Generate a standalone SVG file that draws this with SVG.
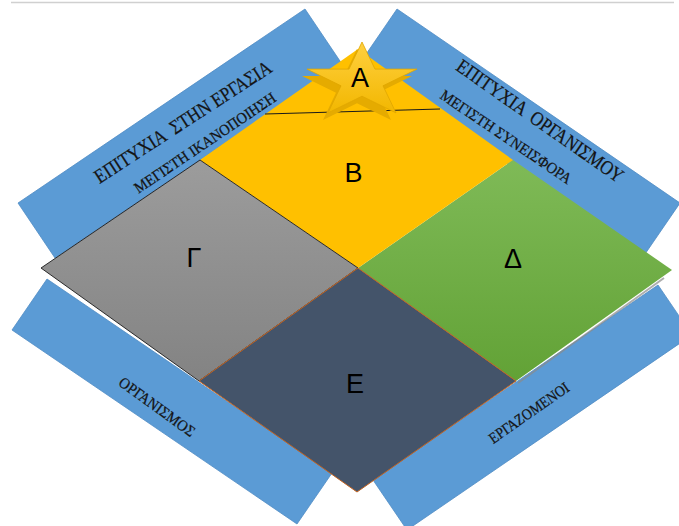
<svg xmlns="http://www.w3.org/2000/svg" width="679" height="526" viewBox="0 0 679 526">
<defs>
<linearGradient id="gGray" x1="0" y1="0" x2="0" y2="1"><stop offset="0" stop-color="#9c9c9c"/><stop offset="1" stop-color="#838383"/></linearGradient>
<linearGradient id="gGreen" x1="0" y1="0" x2="0" y2="1"><stop offset="0" stop-color="#7fba57"/><stop offset="1" stop-color="#62a236"/></linearGradient>
<linearGradient id="gStar" x1="0" y1="0" x2="0" y2="1"><stop offset="0" stop-color="#ffd040"/><stop offset="1" stop-color="#f2b700"/></linearGradient>
</defs>
<style>
.band{fill:#5b9bd5;stroke:#4f8cc4;stroke-width:0.8}
.bt{font-family:"Liberation Serif","Times New Roman",serif;fill:#141414;stroke:#141414;stroke-width:0.25;text-anchor:middle}
.big{font-size:20px}
.small{font-size:15.5px}
.lbl{font-family:"Liberation Sans",Arial,sans-serif;font-size:27px;fill:#000;text-anchor:middle}
</style>
<line x1="11" y1="2.5" x2="674" y2="2.5" stroke="#d0d0d0" stroke-width="1.5"/>
<g id="band-top-left">
<polygon class="band" points="18,203 305,9 342,64 55,258"/>
</g>
<g id="band-top-right">
<polygon class="band" points="397,9 680,203 643,257 360,63"/>
</g>
<g id="band-bottom-left">
<polygon class="band" points="47,279 332,473 297,524 12,330"/>
</g>
<g id="band-bottom-right">
<polygon class="band" points="373,480 658,285 692,335 407,530"/>
</g>
<g id="piece-green">
<polyline points="664,278 518,383" fill="none" stroke="#8a8a8a" stroke-width="2" opacity="0.7"/>
<polygon points="513,160 672,270 516,381 358,268" fill="url(#gGreen)"/>
<text class="lbl" x="513" y="268">Δ</text>
</g>
<g id="piece-yellow">
<polygon points="200,160 358,49 513,160 358,268" fill="#ffc000"/>
<text class="lbl" x="353.5" y="182">B</text>
</g>
<g id="piece-gray">
<polygon points="200,160 358,268 199,381 41,268" fill="url(#gGray)" stroke="#1a1a1a" stroke-width="0.9"/>
<text class="lbl" x="194" y="267">Γ</text>
</g>
<g id="piece-navy">
<polygon points="358,268 516,381 357,492 199,381" fill="#44546a" stroke="#c5631f" stroke-width="1"/>
<text class="lbl" x="355" y="393">E</text>
</g>
<g id="connectors">
<line x1="265" y1="114" x2="440" y2="109" stroke="#1a1a1a" stroke-width="1.2"/>
</g>
<g id="star-A">
<polygon transform="translate(-5,7)" points="362,42 375,69.1 417,69.1 383,85.8 396,112.9 362,96.2 328,112.9 341,85.8 307,69.1 349,69.1" fill="#e5ab00"/>
<polygon points="362,42 375,69.1 417,69.1 383,85.8 396,112.9 362,96.2 328,112.9 341,85.8 307,69.1 349,69.1" fill="url(#gStar)" stroke="#e0a600" stroke-width="0.8"/>
<text class="lbl" x="360" y="87">A</text>
</g>
<g id="band-texts">
<text class="bt big" transform="translate(183,122) rotate(-33) scale(0.86,1)" x="0" y="6.5" xml:space="preserve">ΕΠΙΤΥΧΙΑ  ΣΤΗΝ ΕΡΓΑΣΙΑ</text>
<text class="bt small" transform="translate(205,143) rotate(-34) scale(0.93,1)" x="0" y="5">ΜΕΓΙΣΤΗ ΙΚΑΝΟΠΟΙΗΣΗ</text>
<text class="bt big" transform="translate(540,121) rotate(35) scale(0.86,1)" x="0" y="6.5" xml:space="preserve">ΕΠΙΤΥΧΙΑ  ΟΡΓΑΝΙΣΜΟΥ</text>
<text class="bt small" transform="translate(506,137) rotate(34) scale(0.93,1)" x="0" y="5">ΜΕΓΙΣΤΗ ΣΥΝΕΙΣΦΟΡΑ</text>
<text class="bt small" transform="translate(157,407) rotate(36) scale(0.93,1)" x="0" y="5">ΟΡΓΑΝΙΣΜΟΣ</text>
<text class="bt small" transform="translate(529,413) rotate(-35) scale(0.88,1)" x="0" y="5">ΕΡΓΑΖΟΜΕΝΟΙ</text>
</g>
</svg>
